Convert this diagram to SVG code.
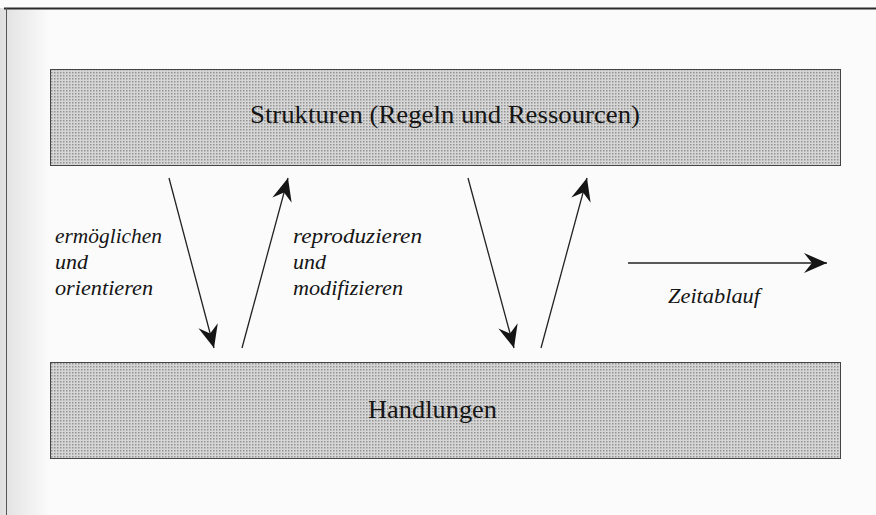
<svg xmlns="http://www.w3.org/2000/svg" width="876" height="515" viewBox="0 0 876 515">
  <defs>
    <pattern id="dots" width="3" height="3" patternUnits="userSpaceOnUse">
      <rect width="3" height="3" fill="#d6d6d6"/>
      <rect x="0" y="0" width="1.5" height="1.5" fill="#939393"/>
    </pattern>
    <linearGradient id="leftShade" x1="0" y1="0" x2="1" y2="0">
      <stop offset="0" stop-color="#d4d4d4"/>
      <stop offset="1" stop-color="#fbfbfb"/>
    </linearGradient>
    <marker id="barb" viewBox="-24 -11 26 22" refX="0" refY="0" markerWidth="26" markerHeight="22" markerUnits="userSpaceOnUse" orient="auto">
      <path d="M0,0 L-23,-10 L-15,0 L-23,10 Z" fill="#151515"/>
    </marker>
  </defs>
  <style>
    .box { fill: url(#dots); stroke: #444; stroke-width: 1; }
    .title { font-family: "Liberation Serif", "Times New Roman", serif; font-size: 26px; fill: #151515; }
    .lbl { font-family: "Liberation Serif", "Times New Roman", serif; font-style: italic; font-size: 22px; fill: #151515; }
    .arrow { stroke: #222; stroke-width: 1.3; fill: none; marker-end: url(#barb); }
  </style>

  <rect width="876" height="515" fill="#fbfbfb"/>
  <rect x="0" y="8" width="50" height="507" fill="url(#leftShade)" opacity="0.7"/>
  <line x1="4" y1="8.5" x2="876" y2="8.5" stroke="#2a2a2a" stroke-width="2"/>
  <line x1="6.5" y1="8" x2="6.5" y2="515" stroke="#555" stroke-width="1"/>

  <g id="strukturen">
    <rect class="box" x="50.5" y="69.5" width="790" height="96"/>
    <text class="title" x="250" y="123" textLength="390" lengthAdjust="spacingAndGlyphs">Strukturen  (Regeln und Ressourcen)</text>
  </g>

  <g id="handlungen">
    <rect class="box" x="50.5" y="362.5" width="790" height="96"/>
    <text class="title" x="368" y="418" textLength="129" lengthAdjust="spacingAndGlyphs">Handlungen</text>
  </g>

  <g id="label-ermoeglichen">
    <text class="lbl" x="55" y="243" textLength="107" lengthAdjust="spacingAndGlyphs">ermöglichen</text>
    <text class="lbl" x="55" y="269">und</text>
    <text class="lbl" x="55" y="295" textLength="98" lengthAdjust="spacingAndGlyphs">orientieren</text>
  </g>

  <g id="label-reproduzieren">
    <text class="lbl" x="293" y="243" textLength="129" lengthAdjust="spacingAndGlyphs">reproduzieren</text>
    <text class="lbl" x="293" y="269">und</text>
    <text class="lbl" x="293" y="295" textLength="110" lengthAdjust="spacingAndGlyphs">modifizieren</text>
  </g>

  <g id="label-zeitablauf">
    <text class="lbl" x="668" y="303" textLength="92" lengthAdjust="spacingAndGlyphs">Zeitablauf</text>
  </g>

  <g id="connectors">
    <line class="arrow" x1="169" y1="178" x2="214" y2="348"/>
    <line class="arrow" x1="242" y1="348" x2="288" y2="178"/>
    <line class="arrow" x1="468" y1="178" x2="514" y2="348"/>
    <line class="arrow" x1="541" y1="348" x2="587" y2="178"/>
    <line class="arrow" x1="628" y1="263" x2="827" y2="263"/>
  </g>
</svg>
